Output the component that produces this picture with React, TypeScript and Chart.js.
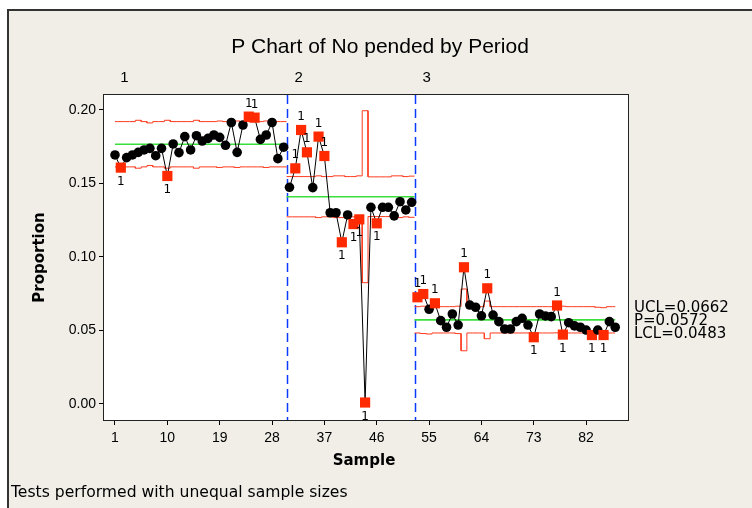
import React, { useEffect, useRef } from 'react';
import { Chart, registerables } from 'chart.js';
Chart.register(...registerables);

// ---- data ----
const proportions = [
  0.1694, 0.1608, 0.1676, 0.1694, 0.1712, 0.1728, 0.1739, 0.1689, 0.1739, 0.1551,
  0.1769, 0.1710, 0.1819, 0.1728, 0.1825, 0.1789, 0.1807, 0.1830, 0.1814, 0.1760,
  0.1915, 0.1712, 0.1898, 0.1955, 0.1948, 0.1800, 0.1830, 0.1915, 0.1669, 0.1747,
  0.1474, 0.1603, 0.1864, 0.1712, 0.1472, 0.1819, 0.1687, 0.1301, 0.1301, 0.1100,
  0.1286, 0.1224, 0.1256, 0.0010, 0.1338, 0.1229, 0.1338, 0.1338, 0.1280, 0.1376,
  0.1320, 0.1372,
  0.0726, 0.0748, 0.0644, 0.0685, 0.0567, 0.0522, 0.0612, 0.0537, 0.0930, 0.0673,
  0.0658, 0.0600, 0.0787, 0.0605, 0.0560, 0.0510, 0.0510, 0.0560, 0.0583, 0.0537,
  0.0454, 0.0612, 0.0599, 0.0594, 0.0670, 0.0472, 0.0553, 0.0531, 0.0522, 0.0503,
  0.0469, 0.0503, 0.0469, 0.0560, 0.0522,
];

const uclValues = [
  0.1921, 0.1921, 0.1921, 0.1921, 0.1930, 0.1921, 0.1912, 0.1921, 0.1921, 0.1930,
  0.1921, 0.1921, 0.1921, 0.1921, 0.1930, 0.1921, 0.1921, 0.1921, 0.1925, 0.1921,
  0.1921, 0.1925, 0.1921, 0.1921, 0.1921, 0.1921, 0.1925, 0.1921, 0.1921, 0.1921,
  0.1547, 0.1547, 0.1547, 0.1547, 0.1547, 0.1552, 0.1547, 0.1547, 0.1552, 0.1552,
  0.1547, 0.1547, 0.1552, 0.1995, 0.1545, 0.1545, 0.1545, 0.1545, 0.1552, 0.1552,
  0.1547, 0.1550,
  0.0662, 0.0665, 0.0668, 0.0662, 0.0662, 0.0662, 0.0662, 0.0665, 0.0782, 0.0662,
  0.0662, 0.0662, 0.0700, 0.0662, 0.0662, 0.0662, 0.0662, 0.0662, 0.0662, 0.0662,
  0.0662, 0.0662, 0.0662, 0.0662, 0.0660, 0.0665, 0.0662, 0.0662, 0.0662, 0.0662,
  0.0662, 0.0658, 0.0655, 0.0662, 0.0662,
];

const lclValues = [
  0.1613, 0.1613, 0.1613, 0.1613, 0.1604, 0.1613, 0.1622, 0.1613, 0.1613, 0.1604,
  0.1613, 0.1613, 0.1613, 0.1613, 0.1604, 0.1613, 0.1613, 0.1613, 0.1609, 0.1613,
  0.1613, 0.1609, 0.1613, 0.1613, 0.1613, 0.1613, 0.1609, 0.1613, 0.1613, 0.1613,
  0.1273, 0.1273, 0.1273, 0.1273, 0.1273, 0.1268, 0.1273, 0.1273, 0.1268, 0.1268,
  0.1273, 0.1273, 0.1268, 0.0825, 0.1275, 0.1275, 0.1275, 0.1275, 0.1268, 0.1268,
  0.1273, 0.1270,
  0.0483, 0.0479, 0.0476, 0.0483, 0.0483, 0.0483, 0.0483, 0.0479, 0.0362, 0.0483,
  0.0483, 0.0483, 0.0444, 0.0483, 0.0483, 0.0483, 0.0483, 0.0483, 0.0483, 0.0483,
  0.0483, 0.0483, 0.0483, 0.0483, 0.0484, 0.0479, 0.0483, 0.0483, 0.0483, 0.0483,
  0.0483, 0.0486, 0.0489, 0.0483, 0.0483,
];

const periodStarts = [1, 31, 53];
const periodEnds = [30, 52, 87];
const centerValues = [0.1767, 0.141, 0.0572];
const periodLabels = ['1', '2', '3'];
const flaggedSamples = [2, 10, 24, 25, 32, 33, 34, 36, 37, 40, 42, 43, 44, 46, 53, 54, 56, 61, 65, 73, 77, 78, 83, 85];
const xTicks = [1, 10, 19, 28, 37, 46, 55, 64, 73, 82];
const yTicks = [0, 0.05, 0.1, 0.15, 0.2];
const limitLabels = ['UCL=0.0662', 'P=0.0572', 'LCL=0.0483'];
const limitLabelValues = [0.0662, 0.0572, 0.0483];

const TITLE = 'P Chart of No pended by Period';
const X_TITLE = 'Sample';
const Y_TITLE = 'Proportion';
const FOOTNOTE = 'Tests performed with unequal sample sizes';

const RED = '#FF2A00';
const LIMIT_RED = '#FF3B1E';
const GREEN = '#3ADF3A';
const BLUE = '#0A3CFF';
const FONT = '"Liberation Sans", Arial, sans-serif';
const WIDE = '"DejaVu Sans", Verdana, sans-serif';

export default function App() {
  const ref = useRef<HTMLCanvasElement | null>(null);

  useEffect(() => {
    if (!ref.current) return;
    const first = periodStarts[0];
    const last = periodEnds[periodEnds.length - 1];
    const datasets: any[] = [];

    periodStarts.forEach((start, p) => {
      const end = periodEnds[p];
      const left = start === first ? first : start - 0.5;
      const right = end === last ? last : end + 0.5;
      const pts: any[] = [];
      const up: any[] = [];
      const lo: any[] = [];
      for (let s = start; s <= end; s++) {
        pts.push({ x: s, y: proportions[s - 1] });
        const a = Math.max(s - 0.5, left);
        const b = Math.min(s + 0.5, right);
        up.push({ x: a, y: uclValues[s - 1] }, { x: b, y: uclValues[s - 1] });
        lo.push({ x: a, y: lclValues[s - 1] }, { x: b, y: lclValues[s - 1] });
      }
      const isFlag = (s: number) => flaggedSamples.includes(s);
      datasets.push({
        data: pts,
        borderColor: '#000',
        borderWidth: 1,
        pointStyle: pts.map((d) => (isFlag(d.x) ? 'rect' : 'circle')),
        pointRadius: pts.map((d) => (isFlag(d.x) ? 7.2 : 4.8)),
        pointBackgroundColor: pts.map((d) => (isFlag(d.x) ? RED : '#000')),
        pointBorderWidth: 0,
        order: 0,
      });
      datasets.push({ data: up, borderColor: LIMIT_RED, borderWidth: 1, pointRadius: 0, order: 2 });
      datasets.push({ data: lo, borderColor: LIMIT_RED, borderWidth: 1, pointRadius: 0, order: 2 });
      datasets.push({
        data: [{ x: left, y: centerValues[p] }, { x: right, y: centerValues[p] }],
        borderColor: GREEN, borderWidth: 1.6, pointRadius: 0, order: 1,
      });
    });

    const decor = {
      id: 'decor',
      beforeDraw(chart: any) {
        const { ctx, chartArea: ca } = chart;
        ctx.save();
        ctx.fillStyle = '#fff';
        ctx.fillRect(0, 0, chart.width, chart.height);
        ctx.fillStyle = '#F1EEE8';
        ctx.fillRect(8, 10, chart.width - 8, chart.height - 10);
        ctx.fillStyle = '#333';
        ctx.fillRect(7, 9, chart.width - 7, 2);
        ctx.fillRect(7, 9, 2, chart.height - 9);
        ctx.fillStyle = '#fff';
        ctx.fillRect(ca.left, ca.top, ca.right - ca.left, ca.bottom - ca.top);
        ctx.restore();
      },
      beforeDatasetsDraw(chart: any) {
        const { ctx, chartArea: ca, scales } = chart;
        ctx.save();
        ctx.strokeStyle = BLUE;
        ctx.lineWidth = 1.5;
        ctx.setLineDash([9, 5]);
        periodStarts.slice(1).forEach((s) => {
          const x = Math.round(scales.x.getPixelForValue(s - 0.5)) + 0.5;
          ctx.beginPath();
          ctx.moveTo(x, ca.top);
          ctx.lineTo(x, ca.bottom);
          ctx.stroke();
        });
        ctx.restore();
      },
      afterDatasetsDraw(chart: any) {
        const { ctx, scales } = chart;
        ctx.save();
        ctx.fillStyle = '#000';
        ctx.font = '12px "DejaVu Sans", sans-serif';
        ctx.textAlign = 'center';
        ctx.textBaseline = 'middle';
        flaggedSamples.forEach((s) => {
          const p = periodStarts.findIndex((st, i) => s >= st && s <= periodEnds[i]);
          const v = proportions[s - 1];
          const x = scales.x.getPixelForValue(s);
          const y = scales.y.getPixelForValue(v);
          const above = v > centerValues[p];
          ctx.fillText('1', x, above ? y - 13 : y + 14);
        });
        ctx.restore();
      },
      afterDraw(chart: any) {
        const { ctx, chartArea: ca, scales } = chart;
        ctx.save();
        ctx.strokeStyle = '#222';
        ctx.lineWidth = 1;
        ctx.strokeRect(ca.left - 0.5, ca.top - 0.5, ca.right - ca.left + 1, ca.bottom - ca.top + 1);
        ctx.fillStyle = '#000';
        ctx.textBaseline = 'middle';
        ctx.textAlign = 'center';
        ctx.font = `21px ${FONT}`;
        ctx.fillText(TITLE, 380, 47);
        ctx.font = `15px ${FONT}`;
        periodStarts.forEach((s, i) => {
          ctx.fillText(periodLabels[i], scales.x.getPixelForValue(s + 1.6), 78);
        });
        ctx.font = `bold 15px ${WIDE}`;
        ctx.fillText(X_TITLE, (ca.left + ca.right) / 2 - 2, 461);
        ctx.save();
        ctx.translate(40, (ca.top + ca.bottom) / 2);
        ctx.rotate(-Math.PI / 2);
        ctx.fillText(Y_TITLE, 0, 0);
        ctx.restore();
        ctx.textAlign = 'left';
        ctx.font = `15.6px ${WIDE}`;
        ctx.fillText(FOOTNOTE, 11, 493);
        ctx.font = `15px ${WIDE}`;
        limitLabels.forEach((t, i) => {
          ctx.fillText(t, 634, scales.y.getPixelForValue(limitLabelValues[i]) + 1);
        });
        ctx.restore();
      },
    };

    const chart = new Chart(ref.current, {
      type: 'line',
      data: { datasets },
      plugins: [decor],
      options: {
        animation: false,
        responsive: false,
        devicePixelRatio: 1,
        layout: { padding: { left: 0, top: 95, right: 124, bottom: 0 } },
        plugins: { legend: { display: false }, tooltip: { enabled: false }, title: { display: false } },
        elements: { line: { tension: 0 } },
        scales: {
          x: {
            type: 'linear',
            min: -0.89,
            max: 89.2,
            afterFit: (s: any) => { s.height = 88; },
            afterBuildTicks: (s: any) => { s.ticks = xTicks.map((v) => ({ value: v })); },
            grid: { drawOnChartArea: false, drawTicks: true, tickLength: 5, color: '#000' },
            border: { display: false },
            ticks: { color: '#000', font: { family: FONT, size: 14 }, padding: 5, maxRotation: 0, autoSkip: false, callback: (v: any) => String(v) },
          },
          y: {
            type: 'linear',
            min: -0.0109,
            max: 0.2102,
            afterFit: (s: any) => { s.width = 104; },
            afterBuildTicks: (s: any) => { s.ticks = yTicks.map((v) => ({ value: v })); },
            grid: { drawOnChartArea: false, drawTicks: true, tickLength: 5, color: '#000' },
            border: { display: false },
            ticks: { color: '#000', font: { family: FONT, size: 14 }, padding: 3, callback: (v: any) => Number(v).toFixed(2) },
          },
        },
      },
    });
    return () => chart.destroy();
  }, []);

  return (
    <div style={{ position: 'fixed', left: 0, top: 0, width: 752, height: 508 }}>
      <canvas ref={ref} width={752} height={508} style={{ display: 'block', width: 752, height: 508 }} />
    </div>
  );
}
